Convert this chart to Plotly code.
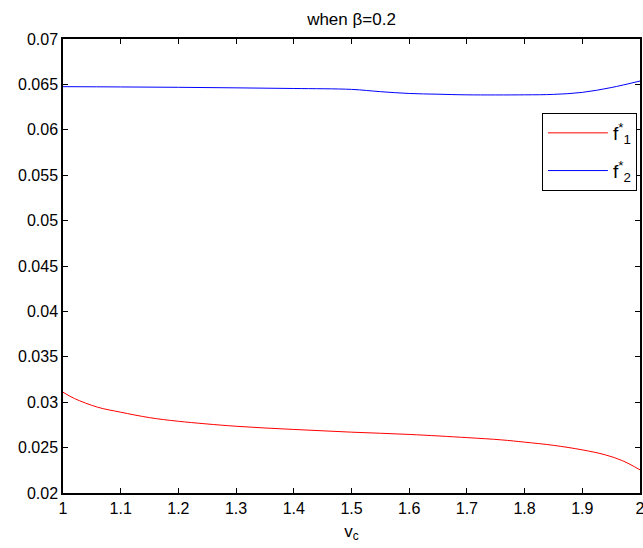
import plotly.graph_objects as go

# Data
x_red = [1.0, 1.02, 1.06, 1.1, 1.15, 1.2, 1.3, 1.4, 1.5, 1.6, 1.7, 1.76, 1.8, 1.85, 1.9, 1.94, 1.97, 2.0]
f1 = [0.0311, 0.0304, 0.02945, 0.0289, 0.0283, 0.0279, 0.02735, 0.0270, 0.0267, 0.02645,
      0.0261, 0.02585, 0.0256, 0.02525, 0.02475, 0.0242, 0.02355, 0.02255]

x_blue = [1.0, 1.1, 1.2, 1.3, 1.4, 1.5, 1.55, 1.6, 1.65, 1.7, 1.8, 1.85, 1.9, 1.95, 2.0]
f2 = [0.06475, 0.06472, 0.06468, 0.06462, 0.06455, 0.06445, 0.0642, 0.0640, 0.06392, 0.06385,
      0.06385, 0.0639, 0.06412, 0.06465, 0.06537]

x_ticks = [1, 1.1, 1.2, 1.3, 1.4, 1.5, 1.6, 1.7, 1.8, 1.9, 2]
x_tick_labels = ["1", "1.1", "1.2", "1.3", "1.4", "1.5", "1.6", "1.7", "1.8", "1.9", "2"]
y_ticks = [0.02, 0.025, 0.03, 0.035, 0.04, 0.045, 0.05, 0.055, 0.06, 0.065, 0.07]
y_tick_labels = ["0.02", "0.025", "0.03", "0.035", "0.04", "0.045", "0.05", "0.055", "0.06", "0.065", "0.07"]

FONT = "Liberation Sans, Arial, sans-serif"

W, H = 643, 548
ML, MR, MT, MB = 63, 3, 39, 55

fig = go.Figure()
fig.add_trace(go.Scatter(x=x_red, y=f1, mode="lines", line=dict(color="red", width=1, shape="spline"),
                         name="f<sup>*</sup><sub>1</sub>", legendgroup="a"))
fig.add_trace(go.Scatter(x=x_blue, y=f2, mode="lines", line=dict(color="blue", width=1, shape="spline"),
                         name="f<sup>*</sup><sub>2</sub>", legendgroup="b"))

axis_common = dict(showline=True, linecolor="black", linewidth=1.5, mirror="ticks",
                   ticks="inside", ticklen=5, tickcolor="black", showgrid=False, zeroline=False,
                   automargin=False, ticklabeloverflow="allow",
                   tickfont=dict(family=FONT, size=16, color="black"))

fig.update_layout(
    width=W, height=H,
    margin=dict(l=ML, r=MR, t=MT, b=MB, pad=0),
    paper_bgcolor="white", plot_bgcolor="white",
    title=dict(text="when β=0.2", x=(ML + (W - MR)) / 2 / W, xanchor="center", y=1 - 19 / H, yanchor="middle",
               font=dict(family=FONT, size=17, color="black")),
    xaxis=dict(range=[1, 2], tickvals=x_ticks, ticktext=x_tick_labels,
               title=dict(text="v<sub>c</sub>", font=dict(family=FONT, size=17, color="black"), standoff=9),
               **axis_common),
    yaxis=dict(range=[0.02, 0.07], tickvals=y_ticks, ticktext=y_tick_labels, **axis_common),
    legend=dict(x=0.83, y=0.837, xanchor="left", yanchor="top", bgcolor="white",
                bordercolor="black", borderwidth=1, font=dict(family=FONT, size=19, color="black"),
                tracegroupgap=10, itemwidth=60),
    showlegend=True,
)

# remove the default page margin so the figure fills the window exactly
fig.write_html("out.html",
               config={"displayModeBar": False},
               post_script="document.body.style.margin='0';"
                           "document.documentElement.style.overflow='hidden';"
                           "document.body.style.overflow='hidden';")
